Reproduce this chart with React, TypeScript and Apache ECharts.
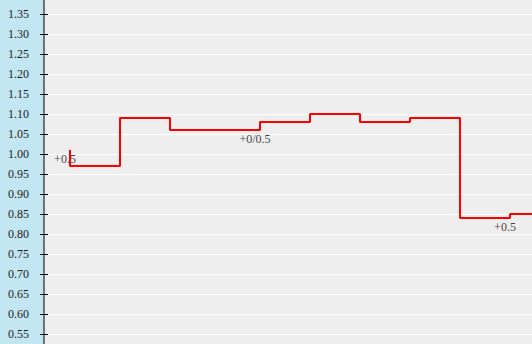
import React, { useEffect, useRef } from "react";
import * as echarts from "echarts";

const times = [0, 5, 10, 19, 24, 29, 34, 39, 44, 49];
const odds = [1.01, 0.97, 1.09, 1.06, 1.08, 1.1, 1.08, 1.09, 0.84, 0.85];
const noteIndex = [0, 3, 8];
const noteTexts = ["+0.5", "+0/0.5", "+0.5"];

const Y_MIN = 0.5;
const Y_MAX = 1.4;
const Y_STEP = 0.05;

export default function App() {
  const ref = useRef<HTMLDivElement>(null);
  useEffect(() => {
    if (!ref.current) return;
    const chart = echarts.init(ref.current, undefined, { renderer: "svg" });
    const serif = "'Liberation Serif', 'Times New Roman', serif";
    const lineData = times.map((t, i) => [t, odds[i]]);
    const notes = noteIndex.map((idx, k) => ({
      value: [times[idx], odds[idx]],
      label: { formatter: noteTexts[k] },
    }));
    chart.setOption({
      animation: false,
      backgroundColor: "#eeeeee",
      grid: {
        left: 44,
        right: 0,
        top: 0,
        bottom: 0,
        containLabel: false,
        outerBoundsMode: "none",
      },
      graphic: [
        {
          type: "rect",
          left: 0,
          top: 0,
          z: -10,
          shape: { x: 0, y: 0, width: 44, height: 360 },
          style: { fill: "#c2e6f2" },
          silent: true,
        },
        {
          type: "line",
          z: 50,
          shape: { x1: 44, y1: 0, x2: 44, y2: 360 },
          style: { stroke: "#000", lineWidth: 1 },
          silent: true,
        },
      ],
      xAxis: {
        type: "value",
        min: -2.6,
        max: 46.2,
        show: false,
        splitLine: { show: false },
      },
      yAxis: {
        type: "value",
        min: Y_MIN,
        max: Y_MAX,
        interval: Y_STEP,
        position: "left",
        offset: -4,
        axisLine: { show: false, onZero: false },
        axisTick: { show: true, inside: false, length: 8, lineStyle: { color: "#000" } },
        axisLabel: {
          margin: 19,
          color: "#222",
          fontFamily: serif,
          fontSize: 12,
          padding: [0, 0, 5, 0],
          showMinLabel: false,
          showMaxLabel: false,
          formatter: (v: number) => v.toFixed(2),
        },
        splitLine: { show: true, lineStyle: { color: "#ffffff", width: 1 } },
      },
      series: [
        {
          type: "scatter",
          z: 1,
          symbolSize: 0,
          data: notes,
          label: {
            show: true,
            position: "bottom",
            distance: 3,
            offset: [-5, 0],
            color: "#111",
            fontFamily: serif,
            fontSize: 12,
          },
        },
        {
          type: "line",
          z: 3,
          step: "start",
          showSymbol: false,
          data: lineData,
          lineStyle: { color: "#ff0000", width: 2 },
        },
      ],
    });
    return () => chart.dispose();
  }, []);
  return (
    <div
      ref={ref}
      style={{ position: "fixed", left: 0, top: -6, width: 532, height: 360 }}
    />
  );
}
